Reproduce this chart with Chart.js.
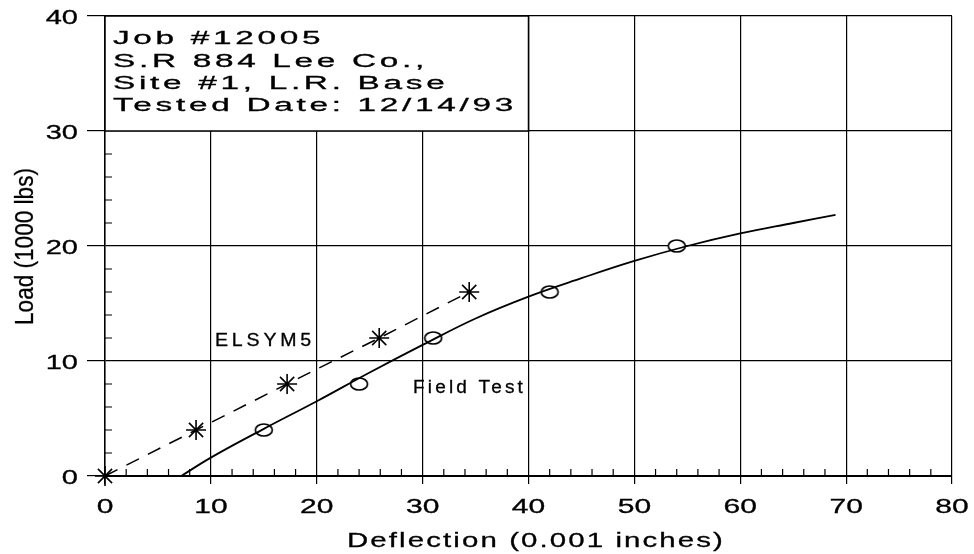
<!DOCTYPE html>
<html>
<head>
<meta charset="utf-8">
<title>Load vs Deflection</title>
<script src="https://cdn.jsdelivr.net/npm/chart.js@4.4.1/dist/chart.umd.min.js"></script>
<style>
  html, body { margin: 0; padding: 0; background: #fff; }
  canvas { display: block; }
</style>
</head>
<body>
<canvas id="chart" width="974" height="554"></canvas>
<script>
// ELSYM5 computed points (asterisks, dashed line)
const elsymDefl = [0, 8.6, 17.2, 25.9, 34.4];
const elsymLoad = [0, 4, 8, 12, 16];

// Field test measurements (circles)
const fieldDefl = [15, 24, 31, 42, 54];
const fieldLoad = [4, 8, 12, 16, 20];

// Field test curve
const fitDefl = [7.2, 10, 15, 20, 25, 30, 35, 40, 45, 50, 55, 60, 65, 69];
const fitLoad = [0, 1.6, 4.1, 6.5, 9.0, 11.4, 13.7, 15.6, 17.2, 18.7, 20.0, 21.1, 22.0, 22.7];

// Axes
const xTicks = ['0', '10', '20', '30', '40', '50', '60', '70', '80'];
const yTicks = ['0', '10', '20', '30', '40'];
const xMinorStep = 2;
const yMinorStep = 2;

// Text box and labels
const infoLines = ['Job #12005', 'S.R 884 Lee Co.,', 'Site #1, L.R. Base', 'Tested Date: 12/14/93'];
const xTitle = 'Deflection (0.001 inches)';
const yTitle = 'Load (1000 lbs)';

const FONT = '"Liberation Sans", Arial, sans-serif';

const toXY = (xs, ys) => xs.map((x, i) => ({ x: x, y: ys[i] }));

// hollow ellipse marker like the plotter's circles
function ellipseMarker() {
    const c = document.createElement('canvas');
    c.width = 22; c.height = 16;
    const g = c.getContext('2d');
    g.fillStyle = '#fff';
    g.strokeStyle = '#000';
    g.lineWidth = 1.7;
    g.beginPath();
    g.ellipse(11, 8, 8.5, 6, 0, 0, Math.PI * 2);
    g.fill();
    g.stroke();
    return c;
}

// draw text stretched horizontally by sx with letter spacing ls
function wideText(ctx, text, x, y, font, sx, ls, align) {
    ctx.save();
    ctx.font = font;
    ctx.letterSpacing = (ls || 0) + 'px';
    ctx.textBaseline = 'alphabetic';
    ctx.fillStyle = '#000';
    ctx.strokeStyle = '#000';
    ctx.lineWidth = 0.3;
    const w = ctx.measureText(text).width * sx;
    let left = x;
    if (align === 'center') left = x - w / 2;
    if (align === 'right') left = x - w;
    ctx.translate(left, y);
    ctx.scale(sx, 1);
    ctx.textAlign = 'left';
    ctx.fillText(text, 0, 0);
    ctx.strokeText(text, 0, 0);
    ctx.restore();
}

function fitScale(ctx, text, font, ls, target) {
    ctx.save();
    ctx.font = font;
    ctx.letterSpacing = ls + 'px';
    const w = ctx.measureText(text).width;
    ctx.restore();
    return target / w;
}

const decorations = {
    id: 'decorations',
    beforeDatasetsDraw(chart) {
        const { ctx, chartArea: a, scales: { x, y } } = chart;
        ctx.save();
        ctx.strokeStyle = '#000';
        ctx.lineWidth = 1.2;
        // minor ticks, inside the frame
        ctx.beginPath();
        for (let v = xMinorStep; v < 80; v += xMinorStep) {
            if (v % 10 === 0) continue;
            const px = x.getPixelForValue(v);
            ctx.moveTo(px, a.bottom);
            ctx.lineTo(px, a.bottom - 7);
        }
        for (let v = yMinorStep; v < 40; v += yMinorStep) {
            if (v % 10 === 0) continue;
            const py = y.getPixelForValue(v);
            ctx.moveTo(a.left, py);
            ctx.lineTo(a.left + 7, py);
        }
        ctx.stroke();

        // info box in the top-left cell pair
        const bx0 = x.getPixelForValue(0), bx1 = x.getPixelForValue(40);
        const by0 = y.getPixelForValue(40), by1 = y.getPixelForValue(30);
        ctx.fillStyle = '#fff';
        ctx.fillRect(bx0, by0, bx1 - bx0, by1 - by0);
        ctx.lineWidth = 1.5;
        ctx.strokeRect(bx0, by0, bx1 - bx0, by1 - by0);
        ctx.restore();

        const boxFont = '18px ' + FONT;
        const sx = fitScale(ctx, infoLines[3], boxFont, 2, 404);
        const baselines = [44, 67, 89, 111];
        infoLines.forEach((t, i) => wideText(ctx, t, 113, baselines[i], boxFont, sx, 2, 'left'));

        // tick labels
        const tickFont = '20px ' + FONT;
        xTicks.forEach(t => {
            const px = x.getPixelForValue(Number(t));
            wideText(ctx, t, px, 513, tickFont, 1.5, 0, 'center');
        });
        yTicks.forEach(t => {
            const py = y.getPixelForValue(Number(t));
            wideText(ctx, t, 78, py + 7.5, tickFont, 1.45, 0, 'right');
        });

        // axis titles
        const titleFont = '21px ' + FONT;
        const tsx = fitScale(ctx, xTitle, titleFont, 1.5, 378);
        wideText(ctx, xTitle, 536, 547, titleFont, tsx, 1.5, 'center');

        // y title: tall, condensed lettering
        const yFont = '26px ' + FONT;
        ctx.save();
        ctx.translate(33, 246.5);
        ctx.rotate(-Math.PI / 2);
        const ysx = fitScale(ctx, yTitle, yFont, 0, 157);
        wideText(ctx, yTitle, 0, 0, yFont, ysx, 0, 'center');
        ctx.restore();
    },
    afterDatasetsDraw(chart) {
        const ctx = chart.ctx;
        const lblFont = '18px ' + FONT;
        const s1 = fitScale(ctx, 'ELSYM5', lblFont, 3.5, 100);
        wideText(ctx, 'ELSYM5', 215, 346, lblFont, s1, 3.5, 'left');
        const s2 = fitScale(ctx, 'Field Test', lblFont, 3, 113);
        wideText(ctx, 'Field Test', 413, 393, lblFont, s2, 3, 'left');
    }
};

new Chart(document.getElementById('chart'), {
    type: 'scatter',
    data: {
        datasets: [
            {
                label: 'Field Test curve',
                data: toXY(fitDefl, fitLoad),
                showLine: true,
                borderColor: '#000',
                borderWidth: 1.8,
                pointRadius: 0,
                tension: 0.4
            },
            {
                label: 'ELSYM5',
                data: toXY(elsymDefl, elsymLoad),
                showLine: true,
                borderColor: '#000',
                borderWidth: 1.5,
                borderDash: [14, 10],
                pointStyle: 'star',
                pointRadius: 10,
                pointBorderWidth: 1.6,
                pointBorderColor: '#000',
                clip: false
            },
            {
                label: 'Field Test',
                data: toXY(fieldDefl, fieldLoad),
                showLine: false,
                pointStyle: ellipseMarker(),
                clip: false
            }
        ]
    },
    options: {
        responsive: false,
        animation: false,
        events: [],
        layout: { padding: { left: 0, right: 22, top: 16, bottom: 0 } },
        plugins: {
            legend: { display: false },
            tooltip: { enabled: false }
        },
        scales: {
            x: {
                type: 'linear',
                min: 0,
                max: 80,
                ticks: { stepSize: 10, display: false },
                grid: { color: '#000', lineWidth: 1.2, tickLength: 8 },
                border: { color: '#000', width: 2 },
                afterFit: (s) => { s.height = 78; }
            },
            y: {
                type: 'linear',
                min: 0,
                max: 40,
                ticks: { stepSize: 10, display: false },
                grid: { color: '#000', lineWidth: 1.2, tickLength: 18 },
                border: { color: '#000', width: 1.5 },
                afterFit: (s) => { s.width = 105; }
            }
        }
    },
    plugins: [decorations]
});
</script>
</body>
</html>
